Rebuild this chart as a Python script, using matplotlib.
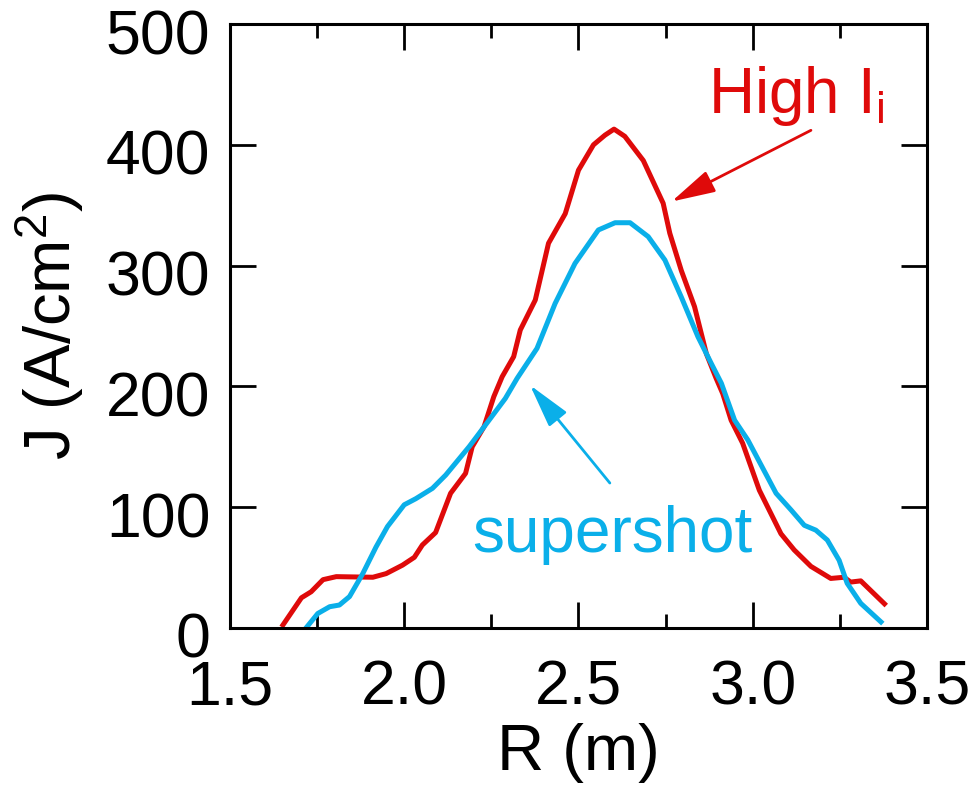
import matplotlib
matplotlib.use("Agg")
import matplotlib.pyplot as plt
import matplotlib.transforms as mtransforms
from matplotlib.ticker import MultipleLocator

# current density profiles
r_high_li = [1.652, 1.705, 1.733, 1.767, 1.805, 1.91, 1.948, 1.995, 2.029, 2.052,
             2.09, 2.133, 2.176, 2.195, 2.229, 2.257, 2.281, 2.314, 2.333, 2.376,
             2.414, 2.462, 2.5, 2.543, 2.576, 2.602, 2.633, 2.686, 2.743, 2.762,
             2.795, 2.833, 2.867, 2.895, 2.914, 2.938, 2.971, 3.019, 3.081, 3.119,
             3.167, 3.224, 3.262, 3.281, 3.31, 3.378]
j_high_li = [2.5, 25, 30, 40, 42.5, 42, 45, 52, 58.5, 68.7,
             79, 111.5, 128, 150, 166.6, 191.5, 208, 224.6, 246.7, 271.5,
             318.5, 343, 379, 400, 408, 413, 407, 387, 351.6, 326.8,
             296, 266, 227, 206.7, 194, 172, 153, 114, 78, 64.6,
             51, 41, 42, 38, 39, 20]

r_super = [1.721, 1.752, 1.786, 1.814, 1.843, 1.881, 1.919, 1.952, 2.0, 2.033,
           2.081, 2.119, 2.186, 2.233, 2.29, 2.324, 2.381, 2.433, 2.49, 2.557,
           2.605, 2.648, 2.7, 2.748, 2.795, 2.843, 2.881, 2.91, 2.948, 2.986,
           3.067, 3.11, 3.148, 3.181, 3.214, 3.248, 3.271, 3.31, 3.368]
j_super = [1, 12, 17.6, 19, 26, 45, 67, 84, 102, 107,
           115.6, 126.6, 150, 168, 190, 206.7, 231.5, 268.7, 301.8, 329.5,
           335.5, 335.5, 324, 304.6, 274, 241, 219, 202.6, 172, 155.6,
           111.5, 97.7, 85, 81, 72.8, 56, 37, 20.4, 5]

red = "#DF0A0A"
blue = "#0AAFE9"

plt.rcParams["font.family"] = "Liberation Sans"
plt.rcParams["mathtext.fontset"] = "custom"
plt.rcParams["mathtext.rm"] = "Liberation Sans"
plt.rcParams["mathtext.it"] = "Liberation Sans"

fig = plt.figure(figsize=(9.77, 7.93), dpi=100)
ax = fig.add_axes([0.2354, 0.2081, 0.7134, 0.7616])

ax.plot(r_high_li, j_high_li, color=red, lw=3.6)
ax.plot(r_super, j_super, color=blue, lw=3.6)

ax.set_xlim(1.5, 3.5)
ax.set_ylim(0, 500)
ax.xaxis.set_major_locator(MultipleLocator(0.5))
ax.xaxis.set_minor_locator(MultipleLocator(0.25))
ax.yaxis.set_major_locator(MultipleLocator(100))
ax.set_xticklabels(["1.5", "2.0", "2.5", "3.0", "3.5"]) if False else None
ax.xaxis.set_major_formatter(matplotlib.ticker.FormatStrFormatter("%.1f"))

ax.tick_params(which="both", direction="in", top=True, right=True, width=2)
ax.tick_params(which="major", length=19, labelsize=45)
ax.tick_params(which="minor", length=10)
ax.tick_params(axis="x", pad=22)
ax.tick_params(axis="y", pad=14)
for s in ax.spines.values():
    s.set_linewidth(2.2)

offset = mtransforms.ScaledTranslation(0, -7 / 100, fig.dpi_scale_trans)
for lab in ax.get_yticklabels():
    lab.set_transform(lab.get_transform() + offset)

ax.set_xlabel("R (m)", fontsize=47, labelpad=4)
ax.set_ylabel("J (A/cm$^2$)", fontsize=47, labelpad=14)

ax.text(2.872, 426, "High I$_\\mathregular{i}$", color=red, fontsize=46,
        ha="left", va="baseline")
ax.annotate("", xy=(2.767, 353), xytext=(3.167, 412),
            arrowprops=dict(arrowstyle="-|>,head_length=1.35,head_width=0.35",
                            color=red, lw=2, mutation_scale=20,
                            shrinkA=0, shrinkB=0))

ax.text(2.194, 63, "supershot", color=blue, fontsize=46,
        ha="left", va="baseline")
ax.annotate("", xy=(2.361, 201), xytext=(2.590, 120),
            arrowprops=dict(arrowstyle="-|>,head_length=1.35,head_width=0.35",
                            color=blue, lw=2, mutation_scale=20,
                            shrinkA=0, shrinkB=0))

fig.savefig("out.png", dpi=100)
